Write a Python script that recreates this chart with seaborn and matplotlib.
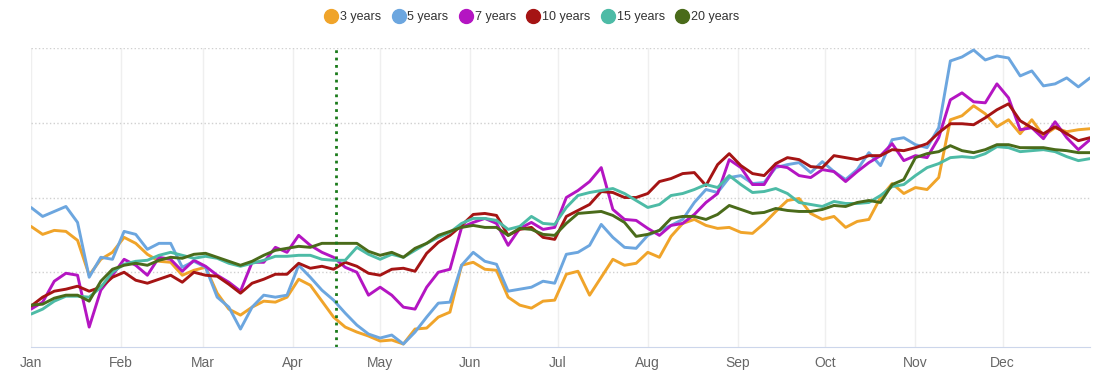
import pandas as pd
import matplotlib.pyplot as plt
import matplotlib.dates as mdates
from matplotlib.lines import Line2D
import seaborn as sns

# sampled every 4 days through the year
days = list(range(0, 365, 4))

y3 = [121, 113, 117, 116, 107, 72, 88, 95, 110, 104,
      93, 86, 85, 72, 77, 80, 54, 38, 32, 40,
      46, 45, 50, 68, 62, 46, 30, 20, 15, 11,
      6, 7, 3, 18, 19, 30, 35, 82, 85, 78,
      77, 50, 42, 39, 46, 47, 73, 76, 52, 70,
      88, 82, 84, 95, 90, 111, 124, 128, 122, 119,
      120, 115, 114, 124, 136, 147, 149, 134, 128, 131,
      120, 126, 128, 150, 164, 154, 160, 158, 170, 228,
      232, 242, 234, 221, 228, 214, 228, 212, 220, 216,
      218, 219]
y5 = [140, 131, 136, 141, 125, 70, 90, 88, 116, 113,
      98, 104, 104, 80, 86, 80, 50, 40, 18, 40,
      52, 50, 52, 82, 70, 57, 47, 34, 22, 13,
      9, 12, 3, 15, 30, 44, 45, 82, 95, 86,
      83, 56, 58, 60, 66, 64, 93, 95, 102, 123,
      110, 100, 99, 112, 117, 122, 128, 145, 158, 155,
      170, 172, 164, 165, 180, 183, 185, 175, 186, 176,
      168, 178, 195, 182, 208, 210, 203, 200, 220, 287,
      291, 298, 288, 292, 290, 272, 277, 262, 264, 270,
      261, 270]
y7 = [38, 45, 66, 74, 72, 20, 57, 72, 88, 82,
      72, 90, 88, 76, 87, 81, 72, 65, 56, 85,
      85, 100, 95, 112, 102, 95, 90, 80, 75, 52,
      60, 52, 40, 38, 60, 75, 78, 120, 125, 129,
      124, 102, 119, 125, 118, 120, 150, 157, 166, 180,
      138, 128, 127, 119, 112, 122, 124, 133, 145, 154,
      188, 180, 163, 163, 182, 180, 172, 170, 178, 176,
      166, 176, 185, 192, 204, 187, 192, 190, 210, 248,
      255, 246, 245, 264, 250, 218, 220, 209, 226, 210,
      198, 208]
y10 = [41, 50, 56, 58, 61, 56, 60, 70, 75, 67,
       64, 68, 72, 65, 75, 72, 71, 63, 54, 64,
       68, 73, 73, 84, 79, 81, 78, 85, 81, 74,
       72, 78, 79, 76, 94, 105, 112, 122, 133, 134,
       132, 112, 118, 120, 110, 108, 131, 137, 143, 156,
       155, 150, 150, 154, 166, 169, 174, 175, 162, 183,
       194, 182, 174, 172, 184, 190, 188, 181, 180, 192,
       190, 188, 192, 192, 198, 197, 200, 204, 215, 224,
       224, 223, 230, 238, 244, 227, 220, 214, 221, 214,
       207, 210]
y15 = [33, 38, 46, 51, 51, 50, 60, 75, 83, 86,
       87, 92, 95, 92, 89, 91, 89, 84, 81, 84,
       87, 91, 91, 92, 92, 88, 87, 87, 100, 93,
       88, 93, 90, 97, 104, 110, 115, 124, 129, 129,
       127, 118, 121, 131, 124, 123, 140, 152, 155, 157,
       159, 154, 147, 140, 143, 152, 154, 158, 163, 160,
       172, 163, 155, 156, 159, 154, 145, 143, 141, 146,
       144, 144, 145, 152, 161, 163, 172, 180, 184, 190,
       191, 190, 194, 201, 200, 196, 197, 198, 196, 191,
       187, 189]
y20 = [42, 43, 49, 52, 52, 46, 66, 78, 82, 84,
       82, 87, 90, 89, 93, 94, 90, 86, 82, 86,
       92, 97, 99, 101, 100, 104, 104, 104, 104, 96,
       92, 95, 90, 99, 104, 112, 116, 120, 122, 120,
       120, 112, 119, 118, 113, 112, 124, 134, 135, 136,
       132, 125, 111, 113, 117, 129, 131, 131, 128, 133,
       142, 138, 134, 135, 139, 137, 136, 136, 138, 142,
       141, 145, 147, 145, 163, 168, 190, 194, 196, 202,
       197, 195, 198, 203, 203, 200, 200, 200, 198, 197,
       195, 195]

labels = ["3 years", "5 years", "7 years", "10 years", "15 years", "20 years"]
colors = ["#f0a42a", "#6ca6df", "#b415c2", "#a51414", "#4dbba6", "#4a6b1a"]
marker_day = 105  # vertical marker, mid April

start = pd.Timestamp("2019-01-01")
dates = start + pd.to_timedelta(days, unit="D")
wide = pd.DataFrame({"date": dates, "3 years": y3, "5 years": y5, "7 years": y7,
                     "10 years": y10, "15 years": y15, "20 years": y20})
df = wide.melt(id_vars="date", var_name="tenor", value_name="value")

sns.set_style("white")
plt.rcParams["font.family"] = ["Liberation Sans", "DejaVu Sans"]

fig = plt.figure(figsize=(11.04, 3.89), dpi=100)
ax = fig.add_axes([31 / 1104, 1 - 347 / 389, (1090 - 31) / 1104, (347 - 48) / 389])

sns.lineplot(data=df, x="date", y="value", hue="tenor", hue_order=labels,
             palette=dict(zip(labels, colors)), linewidth=2.1, ax=ax, legend=False)

ax.axvline(start + pd.Timedelta(days=marker_day), color="#1a7a1a", ls=":", lw=2)

ax.set_xlim(start, start + pd.Timedelta(days=364))
ax.set_ylim(0, 300)
ax.set_yticks([75, 150, 225, 300])
ax.set_yticklabels([])
ax.tick_params(axis="y", length=0)
ax.yaxis.grid(True, linestyle=":", color="#d0d0d0", lw=1)
ax.xaxis.grid(True, color="#efefef", lw=1)
ax.xaxis.set_major_locator(mdates.MonthLocator())
ax.xaxis.set_major_formatter(mdates.DateFormatter("%b"))
ax.tick_params(axis="x", length=3.6, width=1, color="#ccd6eb", labelsize=10,
               labelcolor="#666666", pad=3)
for s in ["left", "right", "top"]:
    ax.spines[s].set_visible(False)
ax.spines["bottom"].set_color("#ccd6eb")
ax.set_xlabel("")
ax.set_ylabel("")

handles = [Line2D([], [], marker="o", ls="", markersize=10, color=c) for c in colors]
fig.legend(handles, labels, loc="center", bbox_to_anchor=(0.482, 0.956), ncol=6,
           frameon=False, fontsize=9, handletextpad=0.2, columnspacing=0.9,
           handlelength=1, labelcolor="#333333")

fig.savefig("out.png", dpi=100)
